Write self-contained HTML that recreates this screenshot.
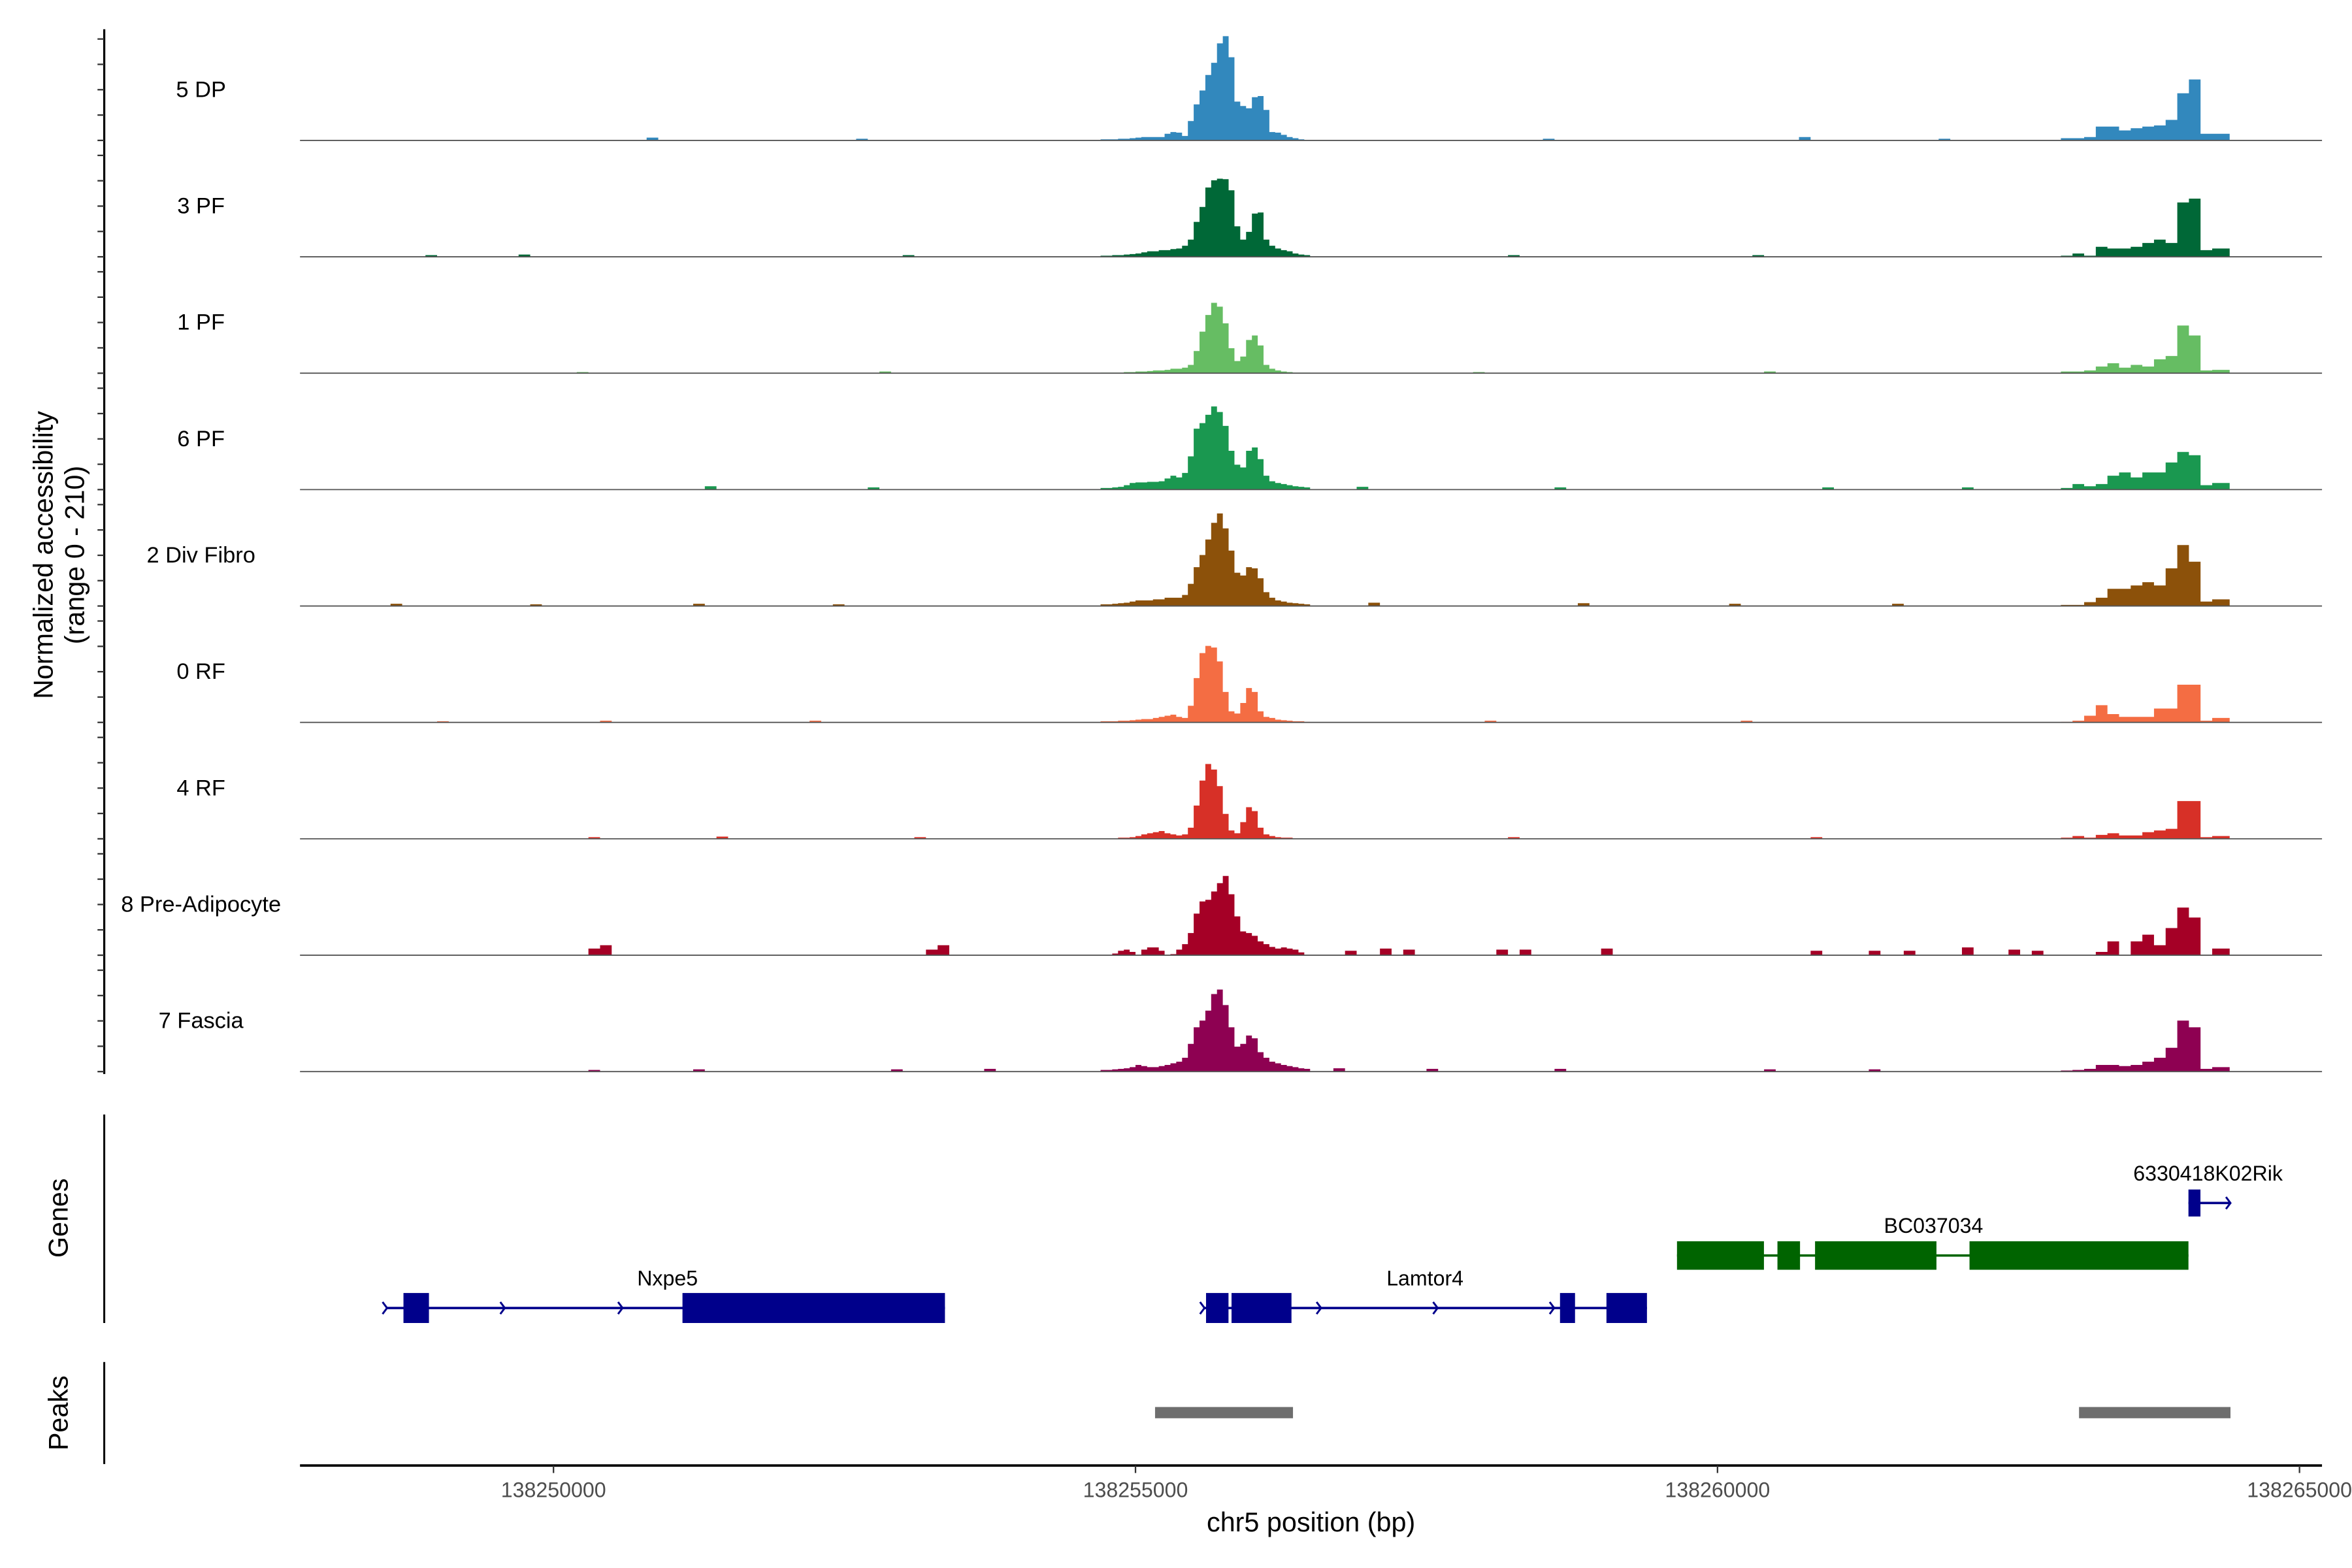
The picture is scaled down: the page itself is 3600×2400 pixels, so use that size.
<!DOCTYPE html>
<html><head><meta charset="utf-8">
<style>
html,body{margin:0;padding:0;background:#fff;}
svg{display:block;}
text{font-family:"Liberation Sans",Arial,sans-serif;}
</style></head>
<body>
<svg id="chart" xmlns="http://www.w3.org/2000/svg" width="3600" height="2400" viewBox="0 0 1568 1045.33">
<rect x="0" y="0" width="1568" height="1046" fill="#fff"/>
<g id="tracks"></g>
<g id="yaxis"></g>
<text transform="translate(35,370) rotate(-90)" text-anchor="middle" font-size="18">Normalized accessibility</text>
<text transform="translate(56,370) rotate(-90)" text-anchor="middle" font-size="18">(range 0 - 210)</text>
<line x1="69.5" y1="743" x2="69.5" y2="882" stroke="#000" stroke-width="1.3"/>
<text transform="translate(45,812) rotate(-90)" text-anchor="middle" font-size="18">Genes</text>
<line x1="69.5" y1="908" x2="69.5" y2="976" stroke="#000" stroke-width="1.3"/>
<text transform="translate(45,942) rotate(-90)" text-anchor="middle" font-size="18">Peaks</text>
<g id="genes"></g>
<g id="peaks"></g>
<g id="xaxis"></g>
<text x="874" y="1021" text-anchor="middle" font-size="18">chr5 position (bp)</text>
</svg>
<script>
// ---- data ----
const trackNames = ["5 DP","3 PF","1 PF","6 PF","2 Div Fibro","0 RF","4 RF","8 Pre-Adipocyte","7 Fascia"];
const trackColors = ["#3288BD","#006837","#66BD63","#1A9850","#8C510A","#F46D43","#D73027","#A50026","#8E0152"];
const winAStart = 138254700, winABin = 50;
const winBStart = 138262950, winBBin = 100;
const winA_5DP = [2,2,2,3,3,4,5,6,6,6,6,12,15,14,8,35,65,90,118,140,175,188,150,70,62,58,78,80,55,15,14,10,6,4,2,1];
const winA_3PF = [2,2,3,3,4,5,6,8,10,10,12,12,14,15,20,31,63,90,125,138,141,140,120,55,31,45,78,80,31,20,15,12,10,6,4,3];
const winA_1PF = [1,1,1,1,2,2,3,3,4,5,5,6,8,8,10,15,40,75,105,127,120,90,45,22,30,60,68,50,15,8,5,3,2,1,1,1];
const winA_6PF = [3,3,4,5,8,12,13,13,14,14,15,20,25,22,30,60,110,120,135,150,140,115,70,45,40,70,76,55,25,15,12,10,8,6,5,4];
const winA_2DF = [3,3,4,5,6,8,10,10,10,12,12,15,15,15,20,40,70,92,120,150,167,140,100,60,55,70,68,50,25,15,10,8,6,5,4,3];
const winA_0RF = [2,2,2,3,3,4,5,6,6,8,10,12,14,10,8,30,80,125,138,135,110,55,20,16,35,62,55,20,10,8,5,4,3,2,2,1];
const winA_4RF = [1,1,1,2,2,3,5,8,10,12,14,10,8,6,8,20,60,105,135,125,95,45,15,10,30,57,50,20,8,5,3,2,2,1,1,1];
const winA_8PA = [0,0,3,8,10,6,0,10,14,14,8,0,2,10,20,40,75,97,100,115,130,143,110,70,43,40,35,25,20,15,12,14,12,10,5,0];
const winA_7FA = [3,3,4,5,6,8,12,10,8,8,10,12,15,18,25,50,80,92,110,140,148,120,80,45,50,65,60,35,25,18,15,12,10,8,6,5];
const winB_5DP = [4,4,6,25,25,18,22,25,27,37,85,110,12,12,12];
const winB_3PF = [2,6,2,18,15,15,18,25,31,25,98,105,12,15,15];
const winB_1PF = [3,3,5,12,18,10,15,12,25,31,86,68,5,6,6];
const winB_6PF = [3,10,6,10,25,31,22,31,31,49,68,62,8,12,12];
const winB_2DF = [2,2,7,15,31,31,37,43,37,68,110,80,8,12,12];
const winB_0RF = [1,3,12,31,15,10,10,10,25,25,68,68,3,8,8];
const winB_4RF = [2,5,2,7,10,6,6,12,15,18,68,68,3,5,5];
const winB_8PA = [0,0,0,6,25,0,25,37,18,49,86,68,0,12,12];
const winB_7FA = [2,3,5,12,12,10,12,18,25,43,92,80,5,8,8];
// sparse background bumps: positions (bp) and values
const bumpPos_5DP = [138250800,138252600,138258500,138260700,138261900];
const bumpVal_5DP = [5,3,3,6,3];
const bumpPos_3PF = [138248900,138249700,138253000,138258200,138260300];
const bumpVal_3PF = [3,4,3,3,3];
const bumpPos_1PF = [138250200,138252800,138257900,138260400];
const bumpVal_1PF = [2,3,2,3];
const bumpPos_6PF = [138251300,138252700,138256900,138258600,138260900,138262100];
const bumpVal_6PF = [6,4,5,4,4,4];
const bumpPos_2DF = [138248600,138249800,138251200,138252400,138257000,138258800,138260100,138261500];
const bumpVal_2DF = [4,3,4,3,6,5,4,4];
const bumpPos_0RF = [138249000,138250400,138252200,138258000,138260200];
const bumpVal_0RF = [2,3,3,3,3];
const bumpPos_4RF = [138250300,138251400,138253100,138258200,138260800];
const bumpVal_4RF = [3,4,3,3,3];
const bumpPos_8PA = [138250300,138250400,138253200,138253300,138256800,138257100,138257300,138258100,138258300,138259000,138260800,138261300,138261600,138262100,138262500,138262700];
const bumpVal_8PA = [12,18,10,18,8,12,10,10,10,12,8,8,8,14,10,8];
const bumpPos_7FA = [138250300,138251200,138252900,138253700,138256700,138257500,138258600,138260400,138261300];
const bumpVal_7FA = [3,4,4,5,6,5,5,4,4];
const winA = [winA_5DP,winA_3PF,winA_1PF,winA_6PF,winA_2DF,winA_0RF,winA_4RF,winA_8PA,winA_7FA];
const winB = [winB_5DP,winB_3PF,winB_1PF,winB_6PF,winB_2DF,winB_0RF,winB_4RF,winB_8PA,winB_7FA];
const bumpPos = [bumpPos_5DP,bumpPos_3PF,bumpPos_1PF,bumpPos_6PF,bumpPos_2DF,bumpPos_0RF,bumpPos_4RF,bumpPos_8PA,bumpPos_7FA];
const bumpVal = [bumpVal_5DP,bumpVal_3PF,bumpVal_1PF,bumpVal_6PF,bumpVal_2DF,bumpVal_0RF,bumpVal_4RF,bumpVal_8PA,bumpVal_7FA];
const xTicks = [138250000,138255000,138260000,138265000];
const geneNames = ["Nxpe5","Lamtor4","BC037034","6330418K02Rik"];
const geneStart = [138248570,138255593,138259652,138264046];
const geneEnd = [138253363,138259394,138264046,138264407];
const geneExons = [
  [[138248711,138248930],[138251108,138253363]],
  [[138255606,138255799],[138255825,138256340],[138258647,138258776],[138259046,138259394]],
  [[138259652,138260399],[138260515,138260709],[138260838,138261881],[138262165,138264046]],
  [[138264046,138264149]]
];
const peakStart = [138255168,138263106];
const peakEnd = [138256353,138264407];

// ---- scales ----
const NS="http://www.w3.org/2000/svg";
const xLeft=200, xRight=1548;
function xs(bp){ return 369 + (bp-138250000)*388/5000; }
const trackStep=77.6, yMax=210, trackPx=77.6;
function baseY(i){ return 93.6 + i*trackStep; }
function ys(i,v){ return baseY(i) - v/yMax*trackPx; }
const dataStart=138247900, dataEnd=138264400;

const tg=document.getElementById('tracks');
for(let i=0;i<trackNames.length;i++){
  const b=baseY(i);
  const step=50;
  const n=Math.round((dataEnd-dataStart)/step);
  const vals=new Array(n).fill(0);
  for(let k=0;k<n;k++){
    const p=dataStart+k*step;
    if(p>=winAStart && p<winAStart+winA[i].length*winABin) vals[k]=winA[i][Math.floor((p-winAStart)/winABin)];
    else if(p>=winBStart && p<winBStart+winB[i].length*winBBin) vals[k]=winB[i][Math.floor((p-winBStart)/winBBin)];
  }
  for(let j=0;j<bumpPos[i].length;j++){
    const k0=Math.floor((bumpPos[i][j]-dataStart)/step);
    if(k0>=0&&k0+1<n){ vals[k0]=Math.max(vals[k0],bumpVal[i][j]); vals[k0+1]=Math.max(vals[k0+1],bumpVal[i][j]); }
  }
  let d='M'+xs(dataStart).toFixed(2)+' '+b;
  for(let k=0;k<n;k++){
    const x0=xs(dataStart+k*step), x1=xs(dataStart+(k+1)*step), y=ys(i,vals[k]);
    d+=' L'+x0.toFixed(2)+' '+y.toFixed(2)+' L'+x1.toFixed(2)+' '+y.toFixed(2);
  }
  d+=' L'+xs(dataEnd).toFixed(2)+' '+b+' Z';
  const area=document.createElementNS(NS,'path');
  area.setAttribute('d',d); area.setAttribute('fill',trackColors[i]);
  
  
  tg.appendChild(area);
  const bl=document.createElementNS(NS,'line');
  bl.setAttribute('x1',xLeft); bl.setAttribute('x2',xRight); bl.setAttribute('y1',b); bl.setAttribute('y2',b);
  bl.setAttribute('stroke','#555'); bl.setAttribute('stroke-width','0.8');
  
  
  tg.appendChild(bl);
  const lab=document.createElementNS(NS,'text');
  lab.setAttribute('x',134); lab.setAttribute('y',b-29); lab.setAttribute('text-anchor','middle'); lab.setAttribute('font-size','15');
  lab.textContent=trackNames[i];
  
  
  tg.appendChild(lab);
}
// y axis
const ya=document.getElementById('yaxis');
const axl=document.createElementNS(NS,'line');
axl.setAttribute('x1',69.5);axl.setAttribute('x2',69.5);axl.setAttribute('y1',19.5);axl.setAttribute('y2',716);
axl.setAttribute('stroke','#000');axl.setAttribute('stroke-width','1.4');


ya.appendChild(axl);
for(let i=0;i<trackNames.length;i++){
  for(let k=0;k<5;k++){
    const y=baseY(i)-k*16.9;
    const t=document.createElementNS(NS,'line');
    t.setAttribute('x1',65);t.setAttribute('x2',69.5);t.setAttribute('y1',y);t.setAttribute('y2',y);
    t.setAttribute('stroke','#333');t.setAttribute('stroke-width','1');
    
    
    ya.appendChild(t);
  }
}
// genes
const gg=document.getElementById('genes');
const geneColor=["#00008B","#00008B","#006400","#00008B"];
const geneY=[872,872,837,802];
const labY=[857,857,822,787];
const labX=[445,950,1289,1472];
const arrowGap=[78.5,77.7];
for(let g=0;g<geneNames.length;g++){
  const y=geneY[g], c=geneColor[g];
  const ln=document.createElementNS(NS,'line');
  ln.setAttribute('x1',xs(geneStart[g]));ln.setAttribute('x2',xs(geneEnd[g]));ln.setAttribute('y1',y);ln.setAttribute('y2',y);
  ln.setAttribute('stroke',c);ln.setAttribute('stroke-width','1.6');
  
  
  gg.appendChild(ln);
  for(const ex of geneExons[g]){
    const r=document.createElementNS(NS,'rect');
    r.setAttribute('x',xs(ex[0]));r.setAttribute('width',xs(ex[1])-xs(ex[0]));
    const h=(g===3)?18:(g===2?19:20);
    r.setAttribute('y',y-h/2);r.setAttribute('height',h);r.setAttribute('fill',c);
    
    
    gg.appendChild(r);
  }
  if(g!==2){
    const n= g===3?1:(g===0?3:4);
    for(let a=0;a<n;a++){
      const ax = g===3 ? xs(geneEnd[g]) : xs(geneStart[g]) + a*arrowGap[g];
      const ar=document.createElementNS(NS,'path');
      ar.setAttribute('d','M'+(ax-3)+' '+(y-4)+' L'+ax+' '+y+' L'+(ax-3)+' '+(y+4));
      ar.setAttribute('fill','none');ar.setAttribute('stroke',c);ar.setAttribute('stroke-width','1.3');
      
      
      gg.appendChild(ar);
    }
  }
  const tl=document.createElementNS(NS,'text');
  tl.setAttribute('x',labX[g]);tl.setAttribute('y',labY[g]);tl.setAttribute('text-anchor','middle');tl.setAttribute('font-size','14');
  tl.textContent=geneNames[g];
  
  
  gg.appendChild(tl);
}
// peaks
const pg=document.getElementById('peaks');
for(let p=0;p<peakStart.length;p++){
  const r=document.createElementNS(NS,'rect');
  r.setAttribute('x',xs(peakStart[p]));r.setAttribute('width',xs(peakEnd[p])-xs(peakStart[p]));
  r.setAttribute('y',938);r.setAttribute('height',7.5);r.setAttribute('fill','#6E6E6E');
  
  
  pg.appendChild(r);
}
// x axis
const xa=document.getElementById('xaxis');
const xl=document.createElementNS(NS,'line');
xl.setAttribute('x1',xLeft);xl.setAttribute('x2',xRight);xl.setAttribute('y1',977);xl.setAttribute('y2',977);
xl.setAttribute('stroke','#000');xl.setAttribute('stroke-width','1.6');


xa.appendChild(xl);
for(const t of xTicks){
  const x=xs(t);
  const tk=document.createElementNS(NS,'line');
  tk.setAttribute('x1',x);tk.setAttribute('x2',x);tk.setAttribute('y1',977);tk.setAttribute('y2',982);
  tk.setAttribute('stroke','#333');tk.setAttribute('stroke-width','1');
  
  
  xa.appendChild(tk);
  const tl=document.createElementNS(NS,'text');
  tl.setAttribute('x',x);tl.setAttribute('y',998);tl.setAttribute('text-anchor','middle');tl.setAttribute('font-size','14');tl.setAttribute('fill','#4D4D4D');
  tl.textContent=String(t);
  
  
  xa.appendChild(tl);
}
</script>
</body></html>
